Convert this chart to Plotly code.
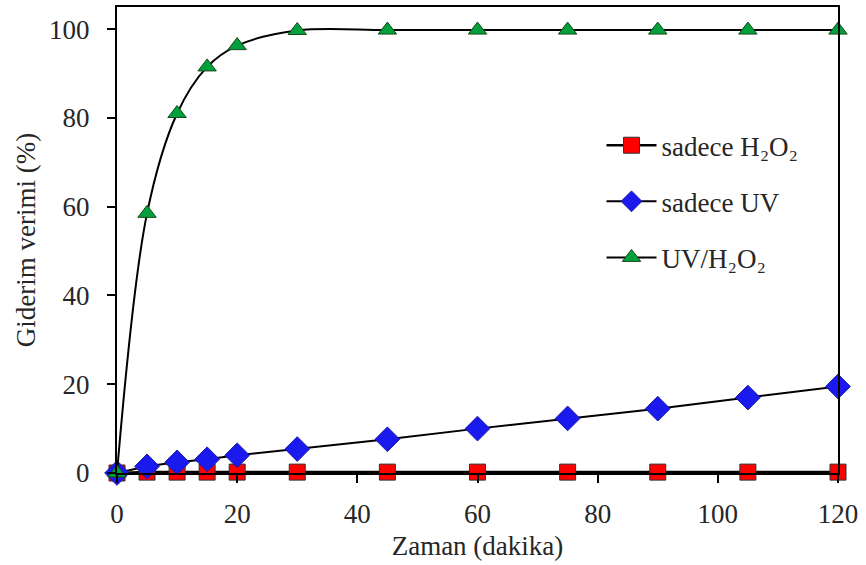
import plotly.graph_objects as go

time = [0, 5, 10, 15, 20, 30, 45, 60, 75, 90, 105, 120]
h2o2_only = [0, 0.2, 0.2, 0.2, 0.2, 0.2, 0.2, 0.2, 0.2, 0.2, 0.2, 0.2]
uv_only = [0, 1.5, 2.4, 3.1, 4.0, 5.4, 7.6, 10.0, 12.3, 14.5, 17.0, 19.5]
uv_h2o2 = [0, 58.5, 81.0, 91.5, 96.3, 99.7, 99.8, 99.8, 99.8, 99.8, 99.8, 99.8]

names = ["sadece H₂O₂", "sadece UV", "UV/H₂O₂"]

FONT = "Liberation Serif"
FS = 27
TXT = "#262626"

fig = go.Figure()
fig.add_trace(go.Scatter(
    x=time, y=h2o2_only, name=names[0], mode="lines+markers",
    line=dict(color="black", width=2.5),
    marker=dict(symbol="square", size=16, color="#ff0000", line=dict(color="#333333", width=1)),
    cliponaxis=False, legendgroup="a"))
fig.add_trace(go.Scatter(
    x=time, y=uv_only, name=names[1], mode="lines+markers",
    line=dict(color="black", width=2),
    marker=dict(symbol="diamond", size=19, color="#1a1aee", line=dict(color="#1a1aaa", width=1)),
    cliponaxis=False, legendgroup="b"))
fig.add_trace(go.Scatter(
    x=time, y=uv_h2o2, name=names[2], mode="lines+markers",
    line=dict(color="black", width=2, shape="spline", smoothing=1.0),
    marker=dict(symbol="triangle-up", size=16, color="#00a03c", line=dict(color="#1a4a1a", width=1)),
    cliponaxis=False, legendgroup="c"))

fig.update_layout(
    width=866, height=565,
    margin=dict(l=117, r=28, t=5, b=92),
    paper_bgcolor="white", plot_bgcolor="white",
    font=dict(family=FONT, size=FS, color=TXT),
    showlegend=True,
    legend=dict(x=0.672, y=0.755, xanchor="left", yanchor="top",
                font=dict(family=FONT, size=FS, color=TXT),
                bgcolor="rgba(0,0,0,0)", tracegroupgap=18,
                traceorder="grouped", itemwidth=50),
    xaxis=dict(range=[0, 120], tickvals=[0, 20, 40, 60, 80, 100, 120],
               showline=True, linecolor="black", linewidth=2, mirror=True,
               ticks="outside", ticklen=8, tickwidth=2, tickcolor="black",
               ticklabelstandoff=8,
               showgrid=False, zeroline=False,
               tickfont=dict(family=FONT, size=FS, color=TXT),
               title=dict(text="Zaman (dakika)", font=dict(family=FONT, size=FS, color=TXT), standoff=8)),
    yaxis=dict(range=[0, 105], tickvals=[0, 20, 40, 60, 80, 100],
               showline=True, linecolor="black", linewidth=2, mirror=True,
               ticks="outside", ticklen=8, tickwidth=2, tickcolor="black",
               ticklabelstandoff=12,
               showgrid=False, zeroline=False,
               tickfont=dict(family=FONT, size=FS, color=TXT),
               title=dict(text="Giderim verimi (%)", font=dict(family=FONT, size=FS, color=TXT), standoff=6)),
)

fig.write_html("out.html")
